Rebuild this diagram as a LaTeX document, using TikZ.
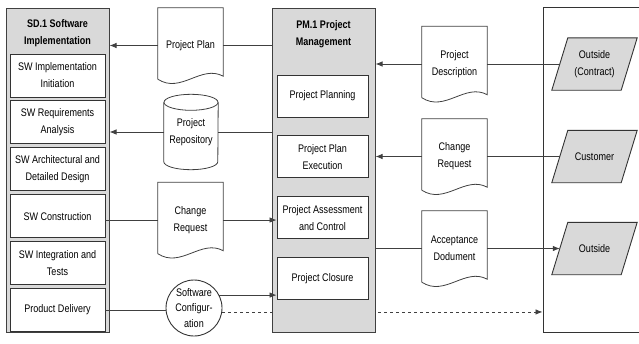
\documentclass[tikz,border=0pt]{standalone}
\usepackage{fontspec}
\setmainfont{Liberation Sans}[FakeStretch=0.82]
\usepackage{tikz}
\usetikzlibrary{arrows.meta, positioning, backgrounds}
\newcommand{\diagfont}{\fontsize{11}{17}\selectfont}
\tikzset{
>={Latex[length=7pt,width=5.5pt]}, % filled triangular heads
conn/.style={draw=black!75, line width=0.8pt}, % every connector
group/.style={draw=black!75, line width=1pt, fill=gray!30, minimum width=103pt, minimum height=324pt}, % process columns
grouptitle/.style={font=\diagfont\bfseries, align=center},
activity/.style={draw=black!80, line width=0.9pt, fill=white, align=center, inner sep=1pt},
sdact/.style={activity, minimum width=95pt, minimum height=43pt},
pmact/.style={activity, minimum width=91pt, minimum height=42pt},
doc/.style={minimum width=65pt, minimum height=75pt, align=center}, % outline drawn afterwards
party/.style={minimum width=69pt, minimum height=52pt, align=center, inner sep=1pt}, % slanted outline drawn behind
}

\begin{document}
\begin{tikzpicture}[x=1pt, y=-1pt, font=\diagfont, node distance=3pt]
  \useasboundingbox (0,0) rectangle (639,343);

  % software implementation column
  \node[group] (sd) at (57.5,170) {};
  \node[grouptitle] (sdtitle) at (57.5,33.5) {SD.1 Software\\Implementation};
  \node[sdact] (sdinit) at (57.5,75.5) {SW Implementation\\Initiation};
  \node[sdact, below=of sdinit] (sdreq) {SW Requirements\\Analysis};
  \node[sdact, below=of sdreq] (sdarch) {SW Architectural and\\Detailed Design};
  \node[sdact, below=of sdarch] (sdcons) {SW Construction};
  \node[sdact, below=of sdcons] (sdinteg) {SW Integration and\\Tests};
  \node[sdact, below=of sdinteg] (sddeliv) {Product Delivery};

  % project management column
  \node[group] (pm) at (323.5,170) {};
  \node[grouptitle] (pmtitle) at (323.5,34) {PM.1 Project\\Management};
  \node[pmact] (pmplan) at (322.5,96) {Project Planning};
  \node[pmact, below=18pt of pmplan] (pmexec) {Project Plan\\Execution};
  \node[pmact, below=18pt of pmexec] (pmassess) {Project Assessment\\and Control};
  \node[pmact, below=18pt of pmassess] (pmclose) {Project Closure};

  % outside world
  \node[draw=black!80, line width=0.9pt, minimum width=120pt, minimum height=325pt] (world) at (603,169.5) {};
  \node[party] (contract) at (594.5,64) {Outside\\(Contract)};
  \node[party] (customer) at (594.5,156.5) {Customer};
  \node[party] (outside) at (594.5,248.5) {Outside};
  \begin{scope}[on background layer]
    \foreach \p in {contract,customer,outside}
      \draw[draw=black!80, line width=0.9pt, fill=gray!30] ([xshift=-8pt]\p.south west) -- ([xshift=8pt]\p.north west)
        -- ([xshift=8pt]\p.north east) -- ([xshift=-8pt]\p.south east) -- cycle;
  \end{scope}

  % work products
  \node[doc] (plan) at (190.5,45.5) {Project Plan};
  \node[doc] (chreq) at (190.5,220) {Change\\Request};
  \node[doc] (desc) at (454.5,64) {Project\\Description};
  \node[doc] (chreqb) at (454.5,156.5) {Change\\Request};
  \node[doc] (accept) at (454.5,248.5) {Acceptance\\Dodument};
  \foreach \d in {plan,chreq,desc,chreqb,accept}
    \draw[conn] ([yshift=4pt]\d.south west) -- (\d.north west) -- (\d.north east) -- ([yshift=7pt]\d.south east)
      .. controls +(-22,-12) and +(23,15) .. ([yshift=4pt]\d.south west);

  \node[minimum width=54pt, minimum height=75pt, align=center] (repo) at (191,132) {Project\\Repository};
  \draw[conn] ([yshift=-8pt]repo.north west) -- ([yshift=8pt]repo.south west)
    arc[start angle=180, end angle=360, x radius=27pt, y radius=8pt] -- ([yshift=-8pt]repo.north east);
  \draw[conn] ([yshift=-8pt]repo.north) ellipse[x radius=27pt, y radius=8pt];

  \node[circle, draw=black!80, line width=0.9pt, minimum size=56pt, inner sep=0pt, align=center,
    font=\fontsize{11}{15.5}\selectfont] (conf) at (194,308) {Software\\Configur-\\ation};

  % flows
  \draw[conn] (pm.west |- plan) -- (plan);
  \draw[conn,->] (plan) -- (plan -| sd.east);
  \draw[conn] (pm.west |- repo) -- (repo);
  \draw[conn,->] (repo) -- (repo -| sd.east);
  \draw[conn] (sdcons.east |- chreq) -- (chreq);
  \draw[conn,->] (chreq) -- (chreq -| pmassess.west);
  \draw[conn] (sddeliv.east) -- (sddeliv.east -| conf.west);
  \draw[conn,->] (conf.27) -- (conf.27 -| pmclose.west);
  \begin{scope}[on background layer]
    \draw[conn,dashed,->] (conf.-8) -- (conf.-8 -| world.west);
  \end{scope}
  \draw[conn] (contract) -- (desc);
  \draw[conn,->] (desc) -- (desc -| pm.east);
  \draw[conn] (customer) -- (chreqb);
  \draw[conn,->] (chreqb) -- (chreqb -| pm.east);
  \draw[conn] (pm.east |- accept) -- (accept);
  \draw[conn,->] (accept) -- (outside);
\end{tikzpicture}
\end{document}
